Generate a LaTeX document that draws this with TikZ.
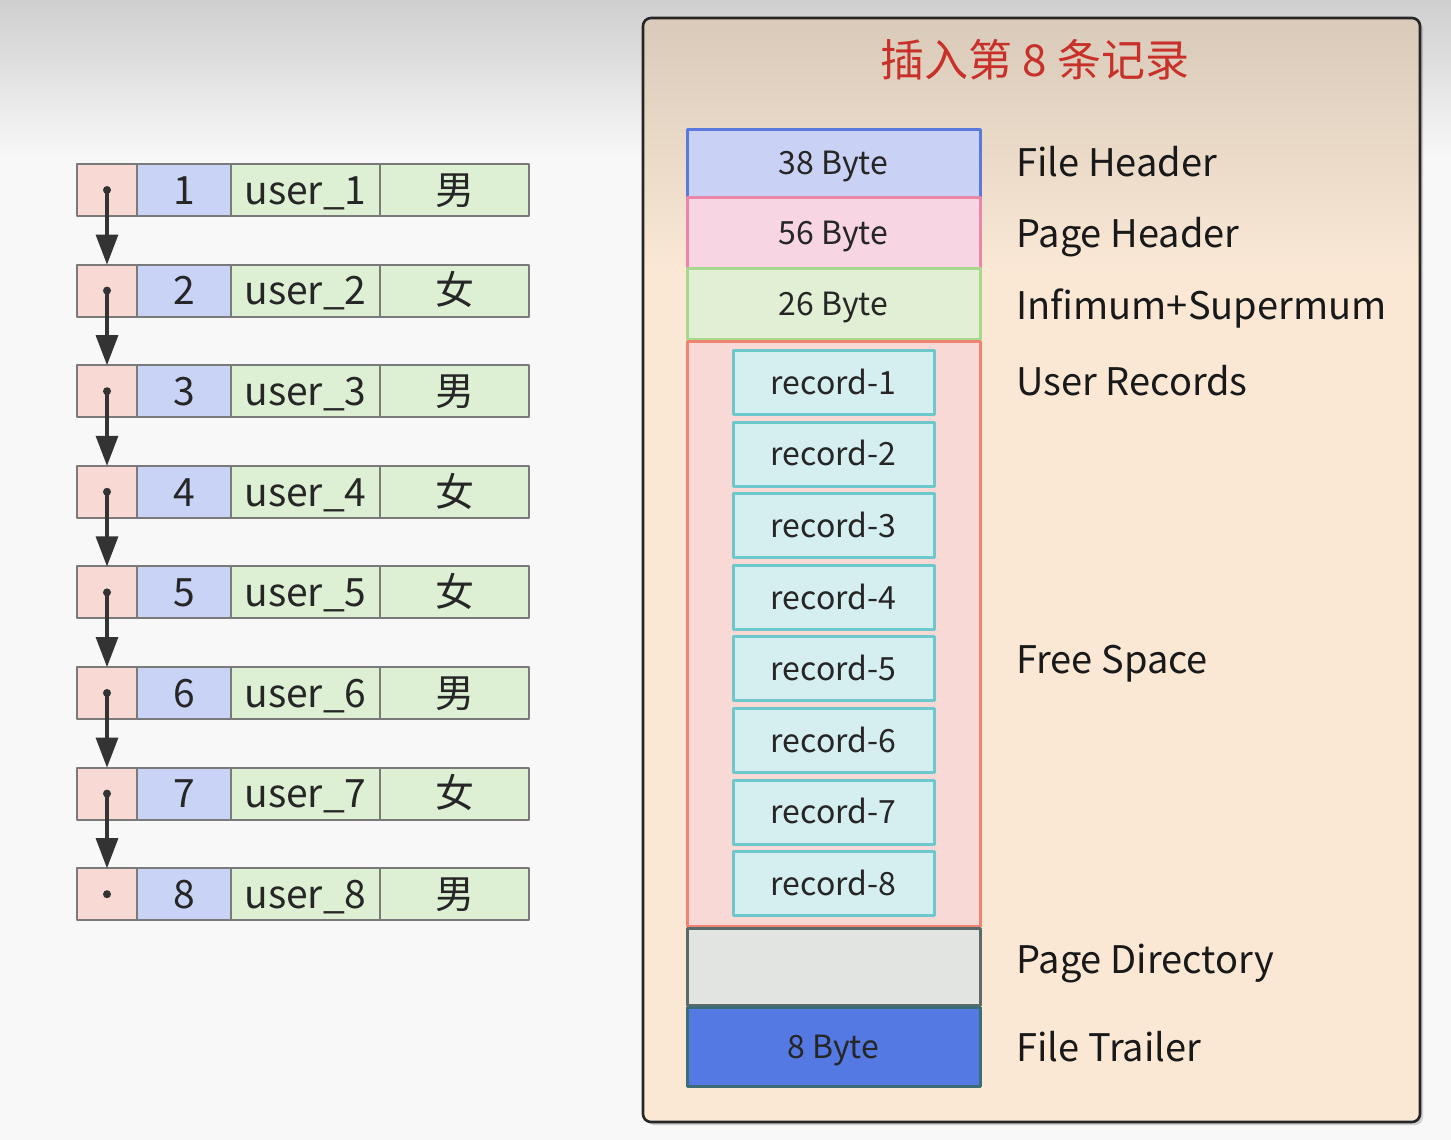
\documentclass[tikz,border=0pt]{standalone}
\usepackage{fontspec}
\setmainfont{Noto Sans CJK SC}
\usetikzlibrary{positioning,arrows.meta,shadows}

\definecolor{bgcol}{HTML}{F8F8F8}
\definecolor{bgtop}{HTML}{CFCFCF}
\definecolor{cellline}{HTML}{7A7A7A}
\definecolor{ptrfill}{HTML}{F8D9D3}
\definecolor{idfill}{HTML}{C9D3F5}
\definecolor{valfill}{HTML}{DEF0D4}
\definecolor{linkcol}{HTML}{333333}
\definecolor{panelfill}{HTML}{FAE8D5}
\definecolor{paneltop}{HTML}{D9CAB9}
\definecolor{titlecol}{HTML}{C8302A}
\definecolor{fhfill}{HTML}{C9D1F5}
\definecolor{fhline}{HTML}{5B78DC}
\definecolor{phfill}{HTML}{F8D5E3}
\definecolor{phline}{HTML}{EC86A8}
\definecolor{isfill}{HTML}{E1F0D5}
\definecolor{isline}{HTML}{A8D88C}
\definecolor{urfill}{HTML}{F8D9D5}
\definecolor{urline}{HTML}{EE8472}
\definecolor{recfill}{HTML}{D5EEF0}
\definecolor{recline}{HTML}{6CC8CC}
\definecolor{pdfill}{HTML}{E2E4E2}
\definecolor{pdline}{HTML}{5A6A6A}
\definecolor{ftfill}{HTML}{5479E2}
\definecolor{ftline}{HTML}{3C6C78}

\begin{document}
\begin{tikzpicture}[x=0.5pt,y=-0.5pt,join=round]
    \tikzstyle{cell} = [draw=cellline,line width=1pt,minimum height=26pt,inner sep=0pt,
                        outer sep=0pt,text=black!85,text height=14.3pt,text depth=0pt,
                        font=\fontsize{19.5}{24}\selectfont]
    \tikzstyle{ptr} = [cell,fill=ptrfill,minimum width=30pt]
    \tikzstyle{idc} = [cell,fill=idfill,minimum width=47pt]
    \tikzstyle{val} = [cell,fill=valfill,minimum width=74.5pt]
    \tikzstyle{link} = [draw=linkcol,line width=1.6pt,-{Triangle[length=15pt,width=11pt]}]
    \tikzstyle{block} = [line width=1.5pt,minimum width=146.5pt,inner sep=0pt,outer sep=0pt,
                         text=black!85,text height=11.7pt,text depth=0pt,
                         font=\fontsize{16}{19}\selectfont]
    \tikzstyle{rec} = [block,draw=recline,fill=recfill,minimum width=100.5pt,minimum height=32pt]
    \tikzstyle{part} = [anchor=west,inner sep=0pt,text=black!90,text height=13.9pt,text depth=0pt,
                        font=\fontsize{19}{23}\selectfont]
    \useasboundingbox (0,0) rectangle (1451,1140);
    \fill[bgcol] (0,0) rectangle (1451,1140);
    \shade[top color=bgtop,bottom color=bgcol] (0,0) rectangle (1451,160);
    % linked list of user rows
    \node[ptr] (p1) at (107,190) {};
    \node[idc,right=0pt of p1] (id1) {1};
    \node[val,right=0pt of id1] (nm1) {user\_1};
    \node[val,right=0pt of nm1] (sx1) {男};
    \node[ptr] (p2) at (107,290.6) {};
    \node[idc,right=0pt of p2] (id2) {2};
    \node[val,right=0pt of id2] (nm2) {user\_2};
    \node[val,right=0pt of nm2] (sx2) {女};
    \node[ptr] (p3) at (107,391.2) {};
    \node[idc,right=0pt of p3] (id3) {3};
    \node[val,right=0pt of id3] (nm3) {user\_3};
    \node[val,right=0pt of nm3] (sx3) {男};
    \node[ptr] (p4) at (107,491.8) {};
    \node[idc,right=0pt of p4] (id4) {4};
    \node[val,right=0pt of id4] (nm4) {user\_4};
    \node[val,right=0pt of nm4] (sx4) {女};
    \node[ptr] (p5) at (107,592.4) {};
    \node[idc,right=0pt of p5] (id5) {5};
    \node[val,right=0pt of id5] (nm5) {user\_5};
    \node[val,right=0pt of nm5] (sx5) {女};
    \node[ptr] (p6) at (107,693) {};
    \node[idc,right=0pt of p6] (id6) {6};
    \node[val,right=0pt of id6] (nm6) {user\_6};
    \node[val,right=0pt of nm6] (sx6) {男};
    \node[ptr] (p7) at (107,793.6) {};
    \node[idc,right=0pt of p7] (id7) {7};
    \node[val,right=0pt of id7] (nm7) {user\_7};
    \node[val,right=0pt of nm7] (sx7) {女};
    \node[ptr] (p8) at (107,894.2) {};
    \node[idc,right=0pt of p8] (id8) {8};
    \node[val,right=0pt of id8] (nm8) {user\_8};
    \node[val,right=0pt of nm8] (sx8) {男};
    \draw[link] (p1.center) -- (p2.north);
    \draw[link] (p2.center) -- (p3.north);
    \draw[link] (p3.center) -- (p4.north);
    \draw[link] (p4.center) -- (p5.north);
    \draw[link] (p5.center) -- (p6.north);
    \draw[link] (p6.center) -- (p7.north);
    \draw[link] (p7.center) -- (p8.north);
    \fill[linkcol] (p1.center) circle (2pt) (p2.center) circle (2pt)
                   (p3.center) circle (2pt) (p4.center) circle (2pt)
                   (p5.center) circle (2pt) (p6.center) circle (2pt)
                   (p7.center) circle (2pt) (p8.center) circle (2pt);
    % the page
    \fill[panelfill,rounded corners=4pt,drop shadow={shadow xshift=1.5pt,shadow yshift=-1.5pt,opacity=.35}]
        (643,18) rectangle (1420,1122);
    \shade[rounded corners=4pt,top color=paneltop,bottom color=panelfill] (643,18) rectangle (1420,270);
    \draw[black!85,line width=1.3pt,rounded corners=4pt] (643,18) rectangle (1420,1122);
    \node[text=titlecol,font=\fontsize{22}{26}\selectfont] (title) at (1035,60) {插入第\ 8\ 条记录};
    \node[block,draw=fhline,fill=fhfill,minimum height=34pt] (fh) at (833.5,163) {38 Byte};
    \node[block,draw=phline,fill=phfill,minimum height=35.5pt] (ph) at (833.5,232.5) {56 Byte};
    \node[block,draw=isline,fill=isfill,minimum height=35.5pt] (is) at (833.5,303.5) {26 Byte};
    \node[block,draw=urline,fill=urfill,minimum height=292.5pt] (ur) at (833.5,633.5) {};
    \node[block,draw=pdline,fill=pdfill,minimum height=38.5pt] (pd) at (833.5,966.5) {};
    \node[block,draw=ftline,fill=ftfill,minimum height=39.5pt] (ft) at (833.5,1046.5) {8 Byte};
    \node[rec] (r1) at (833.5,382.5) {record-1};
    \node[rec] (r2) at (833.5,454.1) {record-2};
    \node[rec] (r3) at (833.5,525.7) {record-3};
    \node[rec] (r4) at (833.5,597.3) {record-4};
    \node[rec] (r5) at (833.5,668.9) {record-5};
    \node[rec] (r6) at (833.5,740.5) {record-6};
    \node[rec] (r7) at (833.5,812.1) {record-7};
    \node[rec] (r8) at (833.5,883.7) {record-8};
    \node[part] (lfh) at (1016,163) {File Header};
    \node[part] (lph) at (1016,234) {Page Header};
    \node[part] (lis) at (1016,306) {Infimum+Supermum};
    \node[part] (lur) at (1016,382) {User Records};
    \node[part] (lfs) at (1016,660) {Free Space};
    \node[part] (lpd) at (1016,960) {Page Directory};
    \node[part] (lft) at (1016,1048) {File Trailer};
\end{tikzpicture}
\end{document}
